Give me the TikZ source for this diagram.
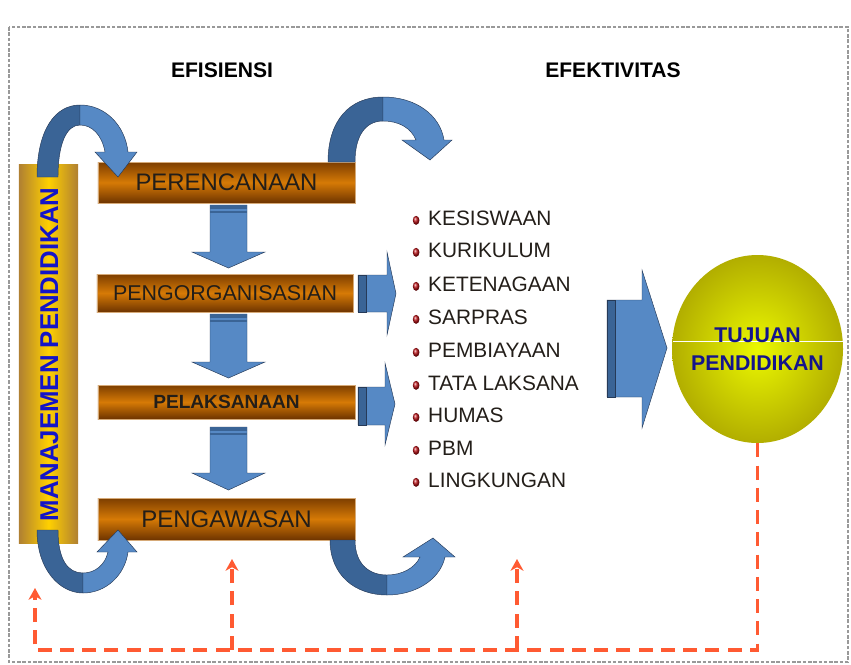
\documentclass[tikz,border=0pt]{standalone}
\usepackage{fontspec}
\setmainfont{Liberation Sans}
\usepackage{tikz}
\usetikzlibrary{shapes.geometric, arrows.meta}

\definecolor{panahbiru}{RGB}{86,137,197}
\definecolor{panahgelap}{RGB}{58,100,150}
\definecolor{garisbiru}{RGB}{38,58,88}
\definecolor{cokelat}{RGB}{125,62,0}
\definecolor{cokelatbawah}{RGB}{110,52,0}
\definecolor{oranye}{RGB}{214,122,6}
\definecolor{emas}{RGB}{176,128,50}
\definecolor{kuning}{RGB}{255,208,0}
\definecolor{tekbiru}{RGB}{20,20,200}
\definecolor{teknavy}{RGB}{20,20,140}
\definecolor{tekgelap}{RGB}{35,30,25}
\definecolor{merahbalik}{RGB}{255,90,50}
\definecolor{merahbutir}{RGB}{185,20,25}
\definecolor{zaitun}{RGB}{178,174,0}
\definecolor{kuningterang}{RGB}{235,248,0}

\tikzset{
  fase/.style={rectangle, inner sep=0pt, minimum width=7.71cm, draw={rgb,255:red,214;green,170;blue,120}, line width=0.4pt,
    top color=cokelat, bottom color=cokelatbawah, middle color=oranye, text=tekgelap},
  judul/.style={font=\bfseries\fontsize{18}{21}\selectfont},
  panah/.style={fill=panahbiru, draw=garisbiru, line width=0.4pt},
  panahsisi/.style={fill=panahgelap, draw=garisbiru, line width=0.4pt},
  bola/.style={ellipse, inner sep=0pt, minimum width=0.2cm, minimum height=0.27cm, ball color=merahbutir, xshift=-0.25cm, yshift=-0.07cm},
  butir/.style={anchor=west, inner sep=0pt, text=tekgelap, font=\fontsize{17.8}{21}\selectfont, label={[bola]left:{}}},
  umpanbalik/.style={draw=merahbalik, line width=2.8pt, dash pattern=on 12pt off 7pt},
  ujung/.style={-{Stealth[length=10pt, width=11pt, inset=3pt]}},
  bingkai/.style={draw=gray!80, line width=1.3pt, dash pattern=on 3pt off 1.5pt}
}

\begin{document}
\begin{tikzpicture}[x=0.03cm, y=-0.03cm]
    \useasboundingbox (0,0) rectangle (851,664);
    \draw[bingkai] (9,27) rectangle (848,662);

    % judul kolom
    \node[judul] (efisiensi) at (222,70) {EFISIENSI};
    \node[judul] (efektivitas) at (613,70) {EFEKTIVITAS};

    % batang manajemen
    \node[rectangle, inner sep=0pt, minimum width=1.77cm, minimum height=11.34cm,
      left color=emas, right color=emas, middle color=kuning] (manajemen) at (48.5,354) {};
    \node[rotate=90, text=tekbiru, font=\bfseries\fontsize{22}{26}\selectfont] (manajemenTeks) at (49.5,354.5) {MANAJEMEN PENDIDIKAN};

    % fungsi manajemen
    \node[fase, minimum height=1.23cm, font=\fontsize{20.4}{24}\selectfont] (perencanaan) at (226.5,182.5) {PERENCANAAN};
    \node[fase, minimum width=7.68cm, minimum height=1.14cm, font=\fontsize{18.3}{22}\selectfont] (pengorganisasian) at (225,293) {PENGORGANISASIAN};
    \node[fase, minimum height=1.02cm, font=\bfseries\fontsize{16.3}{20}\selectfont] (pelaksanaan) at (226.5,402) {PELAKSANAAN};
    \node[fase, minimum height=1.26cm, font=\fontsize{20.5}{24}\selectfont] (pengawasan) at (226.5,519) {PENGAWASAN};

    % panah ke bawah
    \draw[panah] (210,205) -- (247,205) -- (247,252) -- (265,252) -- (228.5,268) -- (192,252) -- (210,252) -- cycle;
    \fill[panahgelap] (210,205) rectangle (247,208.5);
    \fill[panahgelap] (210,210.5) rectangle (247,213);
    \draw[panah] (210,314) -- (247,314) -- (247,362) -- (265,362) -- (228.5,378) -- (192,362) -- (210,362) -- cycle;
    \fill[panahgelap] (210,314) rectangle (247,317.5);
    \fill[panahgelap] (210,319.5) rectangle (247,322);
    \draw[panah] (210,427) -- (247,427) -- (247,473) -- (265,473) -- (228.5,490) -- (192,473) -- (210,473) -- cycle;
    \fill[panahgelap] (210,427) rectangle (247,430.5);
    \fill[panahgelap] (210,432.5) rectangle (247,435);

    % panah ke kanan
    \draw[panah] (358,275) -- (387,275) -- (387,252) -- (396,293.5) -- (387,335) -- (387,312) -- (358,312) -- cycle;
    \draw[panahsisi] (358,275) rectangle (366,312);
    \draw[panah] (358,387) -- (385,387) -- (385,363) -- (395,404) -- (385,445) -- (385,425) -- (358,425) -- cycle;
    \draw[panahsisi] (358,387) rectangle (366,425);
    \draw[panah] (607,300) -- (642,300) -- (642,270) -- (667,348) -- (642,428) -- (642,397) -- (607,397) -- cycle;
    \draw[panahsisi] (607,300) rectangle (615,397);

    % panah melengkung
    \draw[panahsisi] (37,177) .. controls (37,130) and (55,105) .. (80,105) -- (80,125) .. controls (66,125) and (58,145) .. (58,177) -- cycle;
    \draw[panah] (80,105) .. controls (105,105) and (125,125) .. (128,152) -- (137,152) -- (118,177) -- (95,152) -- (105,152) .. controls (102,135) and (92,125) .. (80,125) -- cycle;
    \draw[panahsisi] (328,162) .. controls (328,120) and (350,97) .. (383,97) -- (383,121) .. controls (366,121) and (355,135) .. (355,162) -- cycle;
    \draw[panah] (383,97) .. controls (416,97) and (440,115) .. (444,140) -- (452,140) -- (430,160) -- (402,140) -- (416,140) .. controls (411,128) and (399,121) .. (383,121) -- cycle;
    \draw[panahsisi] (37,530) .. controls (37,570) and (60,593) .. (83,593) -- (83,573) .. controls (68,573) and (58,560) .. (58,530) -- cycle;
    \draw[panah] (83,593) .. controls (106,593) and (125,575) .. (128,552) -- (137,552) -- (118,530) -- (97,552) -- (108,552) .. controls (105,565) and (95,573) .. (83,573) -- cycle;
    \draw[panahsisi] (330,540) .. controls (330,575) and (355,595) .. (387,595) -- (387,575) .. controls (370,575) and (355,565) .. (355,540) -- cycle;
    \draw[panah] (387,595) .. controls (415,595) and (440,580) .. (445,557) -- (455,557) -- (433,538) -- (403,557) -- (420,557) .. controls (415,568) and (402,575) .. (387,575) -- cycle;

    % bidang garapan
    \node[butir] (kesiswaan) at (428,218) {KESISWAAN};
    \node[butir] (kurikulum) at (428,250) {KURIKULUM};
    \node[butir] (ketenagaan) at (428,284) {KETENAGAAN};
    \node[butir] (sarpras) at (428,317) {SARPRAS};
    \node[butir] (pembiayaan) at (428,350) {PEMBIAYAAN};
    \node[butir] (tatalaksana) at (428,383) {TATA LAKSANA};
    \node[butir] (humas) at (428,415) {HUMAS};
    \node[butir] (pbm) at (428,448) {PBM};
    \node[butir] (lingkungan) at (428,480) {LINGKUNGAN};

    % tujuan
    \node[ellipse, inner sep=0pt, minimum width=5.13cm, minimum height=5.64cm,
      inner color=kuningterang, outer color=zaitun] (tujuan) at (757.5,349) {};
    \draw[white, line width=0.6pt] (672.5,341) -- (842.5,341);
    \node[align=center, text=teknavy, font=\bfseries\fontsize{18.2}{23.8}\selectfont] (tujuanTeks) at (757.5,349) {TUJUAN\\PENDIDIKAN};

    % umpan balik
    \coordinate (dasarKanan) at (757.5,650);
    \coordinate (dasarKiri) at (35,650);
    \coordinate (balik1) at (35,588);
    \coordinate (balik2) at (232,559);
    \coordinate (balik3) at (517,559);
    \draw[umpanbalik, ujung] (tujuan.south) -- (dasarKanan) -- (dasarKiri) -- (balik1);
    \draw[umpanbalik, ujung] (balik2 |- dasarKiri) -- (balik2);
    \draw[umpanbalik, ujung] (balik3 |- dasarKiri) -- (balik3);
\end{tikzpicture}
\end{document}
